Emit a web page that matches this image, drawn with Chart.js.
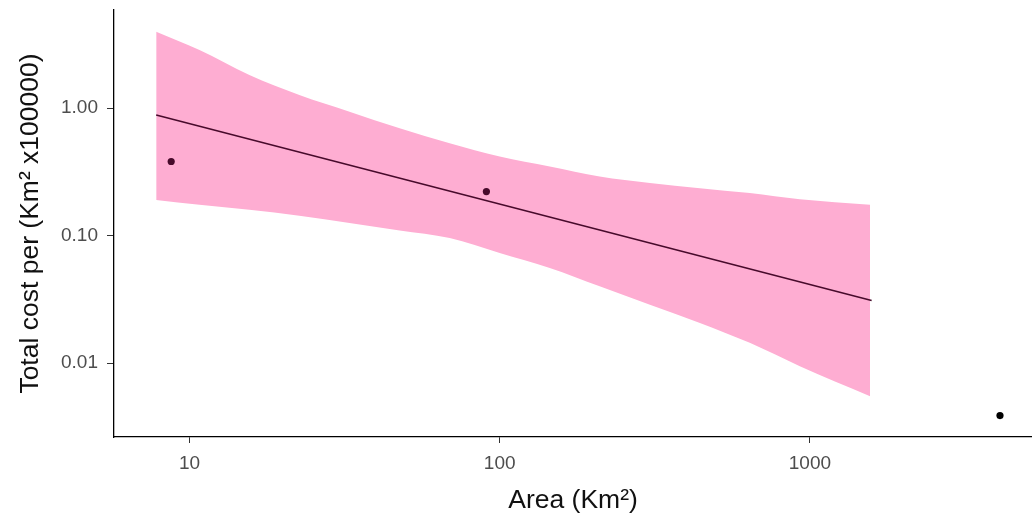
<!DOCTYPE html>
<html>
<head>
<meta charset="utf-8">
<title>Total cost vs area</title>
<script src="https://cdn.jsdelivr.net/npm/chart.js@4.4.1/dist/chart.umd.min.js"></script>
<style>
    html, body { margin: 0; padding: 0; background: #fff; overflow: hidden; }
    #chart { display: block; }
</style>
</head>
<body>
<canvas id="chart" width="1032" height="521"></canvas>
<script>
// observed sites
const areaKm2 = [8.73, 90.6, 4100];
const costPerKm2 = [0.382, 0.222, 0.00389];

// fitted line (log-log)
const fitArea = [7.81, 1581];
const fitCost = [0.886, 0.031];

// confidence band, read along the fit
const bandArea = [7.81, 10.77, 15.6, 22.6, 32.8, 47.6, 69.0, 100, 145, 210, 305, 442, 640, 928, 1563];
const bandUpper = [3.98, 2.86, 1.82, 1.27, 0.940, 0.697, 0.532, 0.418, 0.349, 0.291, 0.259, 0.236, 0.216, 0.193, 0.175];
const bandLower = [0.191, 0.175, 0.160, 0.1435, 0.1257, 0.110, 0.0959, 0.0732, 0.0559, 0.0401, 0.0288, 0.0207, 0.01445, 0.00947, 0.00552];

// tick labels
const xTicks = [10, 100, 1000];
const yTicks = [0.01, 0.1, 1];

const toXY = (xs, ys) => xs.map((x, i) => ({ x: x, y: ys[i] }));

const FONT = '"Liberation Sans", Arial, Helvetica, sans-serif';
const pink = '#FEADD2';
const maroon = '#470a2b';

// no extra room for the edge labels, the frame is set by hand
const noEdgePadding = (scale) => {
    scale.paddingTop = 0;
    scale.paddingBottom = 0;
    scale.paddingLeft = 0;
    scale.paddingRight = 0;
};

new Chart(document.getElementById('chart'), {
    type: 'scatter',
    data: {
        datasets: [
            {
                label: 'sites',
                data: toXY(areaKm2, costPerKm2),
                pointRadius: 3.6,
                pointBorderWidth: 0,
                pointBackgroundColor: [maroon, maroon, '#000'],
                showLine: false
            },
            {
                label: 'fit',
                data: toXY(fitArea, fitCost),
                showLine: true,
                pointRadius: 0,
                borderColor: maroon,
                borderWidth: 1.5
            },
            {
                label: 'upper',
                data: toXY(bandArea, bandUpper),
                showLine: true,
                pointRadius: 0,
                borderWidth: 0,
                borderColor: pink,
                cubicInterpolationMode: 'monotone',
                fill: false
            },
            {
                label: 'lower',
                data: toXY(bandArea, bandLower),
                showLine: true,
                pointRadius: 0,
                borderWidth: 0,
                borderColor: pink,
                backgroundColor: pink,
                cubicInterpolationMode: 'monotone',
                fill: '-1'
            }
        ]
    },
    options: {
        responsive: false,
        devicePixelRatio: 1,
        animation: false,
        layout: { autoPadding: false, padding: { top: 10, right: 0, left: 0, bottom: 0 } },
        plugins: {
            legend: { display: false },
            tooltip: { enabled: false },
            filler: { propagate: false }
        },
        scales: {
            x: {
                type: 'logarithmic',
                bounds: 'data',
                min: 5.71,
                max: 5200,
                afterBuildTicks: (scale) => { scale.ticks = xTicks.map(v => ({ value: v })); },
                afterFit: (scale) => { scale.height = 84; noEdgePadding(scale); },
                ticks: {
                    callback: (v) => String(v),
                    color: '#4d4d4d',
                    font: { family: FONT, size: 19 },
                    padding: 9,
                    maxRotation: 0,
                    autoSkip: false
                },
                grid: {
                    display: true,
                    drawOnChartArea: false,
                    drawTicks: true,
                    tickLength: 6,
                    tickColor: '#333'
                },
                border: { display: true, color: '#000', width: 1.3 },
                title: {
                    display: true,
                    text: 'Area (Km²)',
                    color: '#111',
                    font: { family: FONT, size: 26.5 },
                    padding: { top: 0, bottom: 4 }
                }
            },
            y: {
                type: 'logarithmic',
                bounds: 'data',
                min: 0.00264,
                max: 5.89,
                afterBuildTicks: (scale) => { scale.ticks = yTicks.map(v => ({ value: v })); },
                afterFit: (scale) => { scale.width = 114; noEdgePadding(scale); },
                ticks: {
                    callback: (v) => Number(v).toFixed(2),
                    color: '#4d4d4d',
                    font: { family: FONT, size: 19 },
                    padding: 9,
                    autoSkip: false
                },
                grid: {
                    display: true,
                    drawOnChartArea: false,
                    drawTicks: true,
                    tickLength: 7,
                    tickColor: '#333'
                },
                border: { display: true, color: '#000', width: 1.3 },
                title: {
                    display: true,
                    text: 'Total cost per (Km² x100000)',
                    color: '#111',
                    font: { family: FONT, size: 26.5 },
                    padding: { top: 15, bottom: 0 }
                }
            }
        }
    }
});
</script>
</body>
</html>
